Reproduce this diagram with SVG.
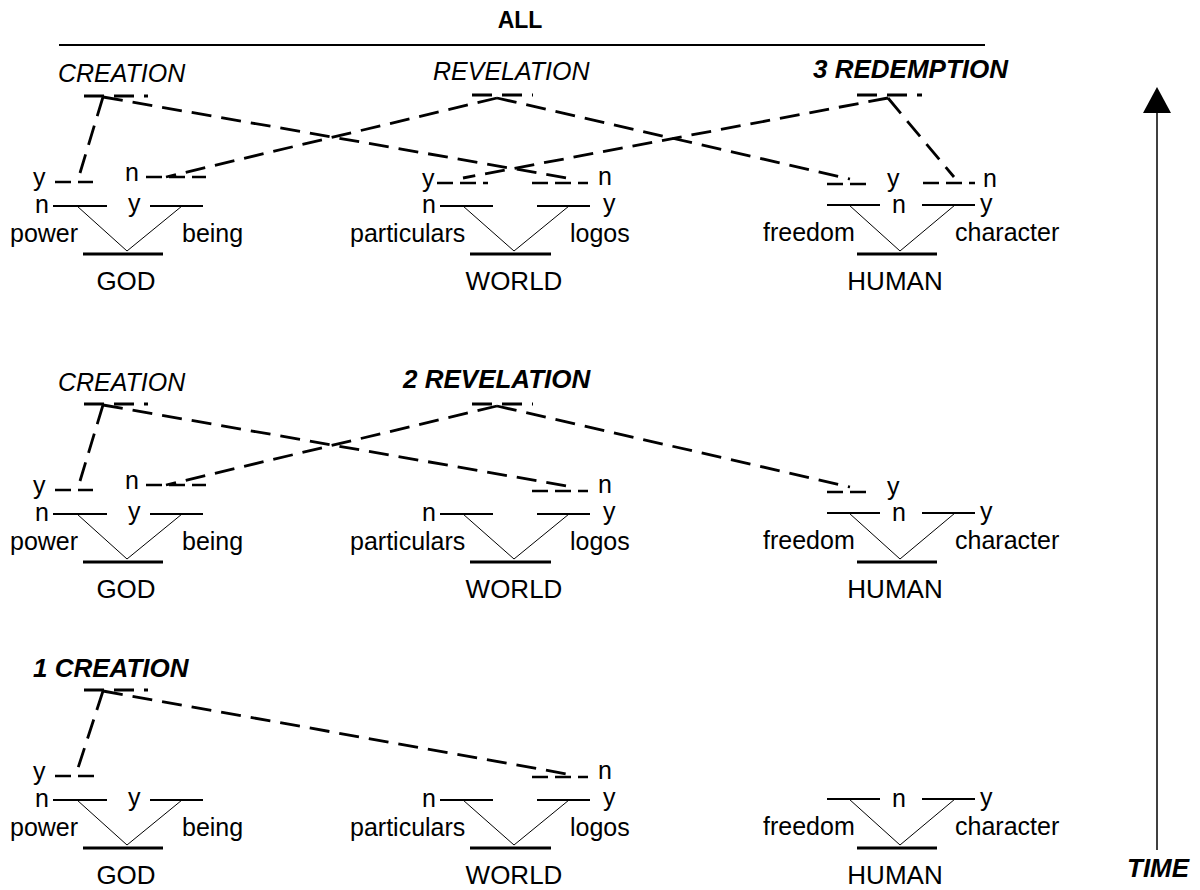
<svg xmlns="http://www.w3.org/2000/svg" width="1200" height="890" viewBox="0 0 1200 890">
<style>
text{font-family:"Liberation Sans",Arial,sans-serif;font-size:25px;fill:#000}
.big{font-size:26px}
.hd{font-style:italic;font-size:25px}
.hdb{font-style:italic;font-weight:bold;font-size:26px}
.ttl{font-weight:bold;font-size:23px}
.br{stroke:#000;stroke-width:2}
.v{stroke:#000;stroke-width:1;fill:none}
.base{stroke:#000;stroke-width:3}
.stub{stroke:#000;stroke-width:2.5;stroke-dasharray:16 7;fill:none}
.dash{stroke:#000;stroke-width:2.8;stroke-dasharray:20 10;fill:none}
</style>
<rect width="1200" height="890" fill="#fff"/>

<g id="title">
<text class="ttl" x="520" y="28" text-anchor="middle">ALL</text>
<line x1="59" y1="45" x2="985" y2="45" stroke="#000" stroke-width="2"/>
</g>

<g id="headings">
<text class="hd" x="58" y="82">CREATION</text>
<text class="hd" x="433" y="80">REVELATION</text>
<text class="hdb" x="813" y="78">3 REDEMPTION</text>
<text class="hd" x="58" y="391">CREATION</text>
<text class="hdb" x="403" y="388">2 REVELATION</text>
<text class="hdb" x="33" y="677">1 CREATION</text>
</g>

<!-- TOP PANEL -->
<g id="god-3">
<line class="stub" x1="55" y1="182" x2="93" y2="182"/>
<text x="33" y="186">y</text>
<line class="stub" x1="146" y1="177" x2="206" y2="177"/>
<text x="125" y="181">n</text>
<line class="br" x1="53" y1="206" x2="107" y2="206"/>
<line class="br" x1="150" y1="206" x2="203" y2="206"/>
<text x="35" y="213">n</text>
<text x="128" y="212">y</text>
<polyline class="v" points="77,206 127,251 182,206"/>
<line class="base" x1="83" y1="254" x2="163" y2="254"/>
<text x="10" y="242">power</text>
<text x="182" y="242">being</text>
<text class="big" x="126" y="290" text-anchor="middle">GOD</text>
</g>

<g id="world-3">
<line class="stub" x1="437" y1="183" x2="488" y2="183"/>
<text x="422" y="187">y</text>
<line class="stub" x1="532" y1="183" x2="588" y2="183"/>
<text x="598" y="185">n</text>
<line class="br" x1="440" y1="206" x2="493" y2="206"/>
<line class="br" x1="537" y1="206" x2="590" y2="206"/>
<text x="422" y="213">n</text>
<text x="603" y="212">y</text>
<polyline class="v" points="463,206 514,251 569,206"/>
<line class="base" x1="470" y1="254" x2="551" y2="254"/>
<text x="350" y="242">particulars</text>
<text x="570" y="242">logos</text>
<text class="big" x="514" y="290" text-anchor="middle">WORLD</text>
</g>

<g id="human-3">
<line class="stub" x1="827" y1="184" x2="873" y2="184"/>
<text x="887" y="187">y</text>
<line class="stub" x1="923" y1="183" x2="975" y2="183"/>
<text x="983" y="187">n</text>
<line class="br" x1="827" y1="205" x2="880" y2="205"/>
<line class="br" x1="922" y1="205" x2="975" y2="205"/>
<text x="892" y="213">n</text>
<text x="980" y="212">y</text>
<polyline class="v" points="849,205 900,251 955,205"/>
<line class="base" x1="857" y1="254" x2="937" y2="254"/>
<text x="763" y="241">freedom</text>
<text x="955" y="241">character</text>
<text class="big" x="895" y="290" text-anchor="middle">HUMAN</text>
</g>

<!-- MIDDLE PANEL -->
<g id="god-2" transform="translate(0,308)">
<line class="stub" x1="55" y1="182" x2="93" y2="182"/>
<text x="33" y="186">y</text>
<line class="stub" x1="146" y1="177" x2="206" y2="177"/>
<text x="125" y="181">n</text>
<line class="br" x1="53" y1="206" x2="107" y2="206"/>
<line class="br" x1="150" y1="206" x2="203" y2="206"/>
<text x="35" y="213">n</text>
<text x="128" y="212">y</text>
<polyline class="v" points="77,206 127,251 182,206"/>
<line class="base" x1="83" y1="254" x2="163" y2="254"/>
<text x="10" y="242">power</text>
<text x="182" y="242">being</text>
<text class="big" x="126" y="290" text-anchor="middle">GOD</text>
</g>

<g id="world-2" transform="translate(0,308)">
<line class="stub" x1="532" y1="183" x2="588" y2="183"/>
<text x="598" y="185">n</text>
<line class="br" x1="440" y1="206" x2="493" y2="206"/>
<line class="br" x1="537" y1="206" x2="590" y2="206"/>
<text x="422" y="213">n</text>
<text x="603" y="212">y</text>
<polyline class="v" points="463,206 514,251 569,206"/>
<line class="base" x1="470" y1="254" x2="551" y2="254"/>
<text x="350" y="242">particulars</text>
<text x="570" y="242">logos</text>
<text class="big" x="514" y="290" text-anchor="middle">WORLD</text>
</g>

<g id="human-2" transform="translate(0,308)">
<line class="stub" x1="827" y1="184" x2="873" y2="184"/>
<text x="887" y="187">y</text>
<line class="br" x1="827" y1="205" x2="880" y2="205"/>
<line class="br" x1="922" y1="205" x2="975" y2="205"/>
<text x="892" y="213">n</text>
<text x="980" y="212">y</text>
<polyline class="v" points="849,205 900,251 955,205"/>
<line class="base" x1="857" y1="254" x2="937" y2="254"/>
<text x="763" y="241">freedom</text>
<text x="955" y="241">character</text>
<text class="big" x="895" y="290" text-anchor="middle">HUMAN</text>
</g>

<!-- BOTTOM PANEL -->
<g id="god-1" transform="translate(0,594)">
<line class="stub" x1="55" y1="182" x2="98" y2="182"/>
<text x="33" y="186">y</text>
<line class="br" x1="53" y1="206" x2="107" y2="206"/>
<line class="br" x1="150" y1="206" x2="203" y2="206"/>
<text x="35" y="213">n</text>
<text x="128" y="212">y</text>
<polyline class="v" points="77,206 127,251 182,206"/>
<line class="base" x1="83" y1="254" x2="163" y2="254"/>
<text x="10" y="242">power</text>
<text x="182" y="242">being</text>
<text class="big" x="126" y="290" text-anchor="middle">GOD</text>
</g>

<g id="world-1" transform="translate(0,594)">
<line class="stub" x1="532" y1="183" x2="588" y2="183"/>
<text x="598" y="185">n</text>
<line class="br" x1="440" y1="206" x2="493" y2="206"/>
<line class="br" x1="537" y1="206" x2="590" y2="206"/>
<text x="422" y="213">n</text>
<text x="603" y="212">y</text>
<polyline class="v" points="463,206 514,251 569,206"/>
<line class="base" x1="470" y1="254" x2="551" y2="254"/>
<text x="350" y="242">particulars</text>
<text x="570" y="242">logos</text>
<text class="big" x="514" y="290" text-anchor="middle">WORLD</text>
</g>

<g id="human-1" transform="translate(0,594)">
<line class="br" x1="827" y1="205" x2="880" y2="205"/>
<line class="br" x1="922" y1="205" x2="975" y2="205"/>
<text x="892" y="213">n</text>
<text x="980" y="212">y</text>
<polyline class="v" points="849,205 900,251 955,205"/>
<line class="base" x1="857" y1="254" x2="937" y2="254"/>
<text x="763" y="241">freedom</text>
<text x="955" y="241">character</text>
<text class="big" x="895" y="290" text-anchor="middle">HUMAN</text>
</g>

<g id="connectors">
<!-- top panel -->
<line class="dash" x1="84" y1="96" x2="148" y2="96"/>
<line class="dash" x1="103" y1="97" x2="80" y2="173"/>
<line class="dash" x1="103" y1="97" x2="567" y2="178"/>
<line class="dash" x1="472" y1="95" x2="533" y2="95"/>
<line class="dash" x1="497" y1="98" x2="166" y2="177"/>
<line class="dash" x1="497" y1="98" x2="850" y2="179"/>
<line class="dash" x1="857" y1="95" x2="922" y2="95"/>
<line class="dash" x1="888" y1="98" x2="463" y2="178"/>
<line class="dash" x1="888" y1="98" x2="954" y2="177"/>
<!-- middle panel -->
<line class="dash" x1="84" y1="404" x2="148" y2="404"/>
<line class="dash" x1="103" y1="405" x2="80" y2="481"/>
<line class="dash" x1="103" y1="405" x2="567" y2="486"/>
<line class="dash" x1="472" y1="404" x2="533" y2="404"/>
<line class="dash" x1="497" y1="406" x2="166" y2="485"/>
<line class="dash" x1="497" y1="406" x2="850" y2="487"/>
<!-- bottom panel -->
<line class="dash" x1="84" y1="690" x2="148" y2="690"/>
<line class="dash" x1="103" y1="691" x2="78" y2="768"/>
<line class="dash" x1="103" y1="691" x2="567" y2="774"/>
</g>

<g id="time">
<line x1="1157" y1="850" x2="1157" y2="112" stroke="#000" stroke-width="1.5"/>
<polygon points="1157,87 1143,113 1171,113" fill="#000"/>
<text class="hdb" x="1127" y="877">TIME</text>
</g>
</svg>
